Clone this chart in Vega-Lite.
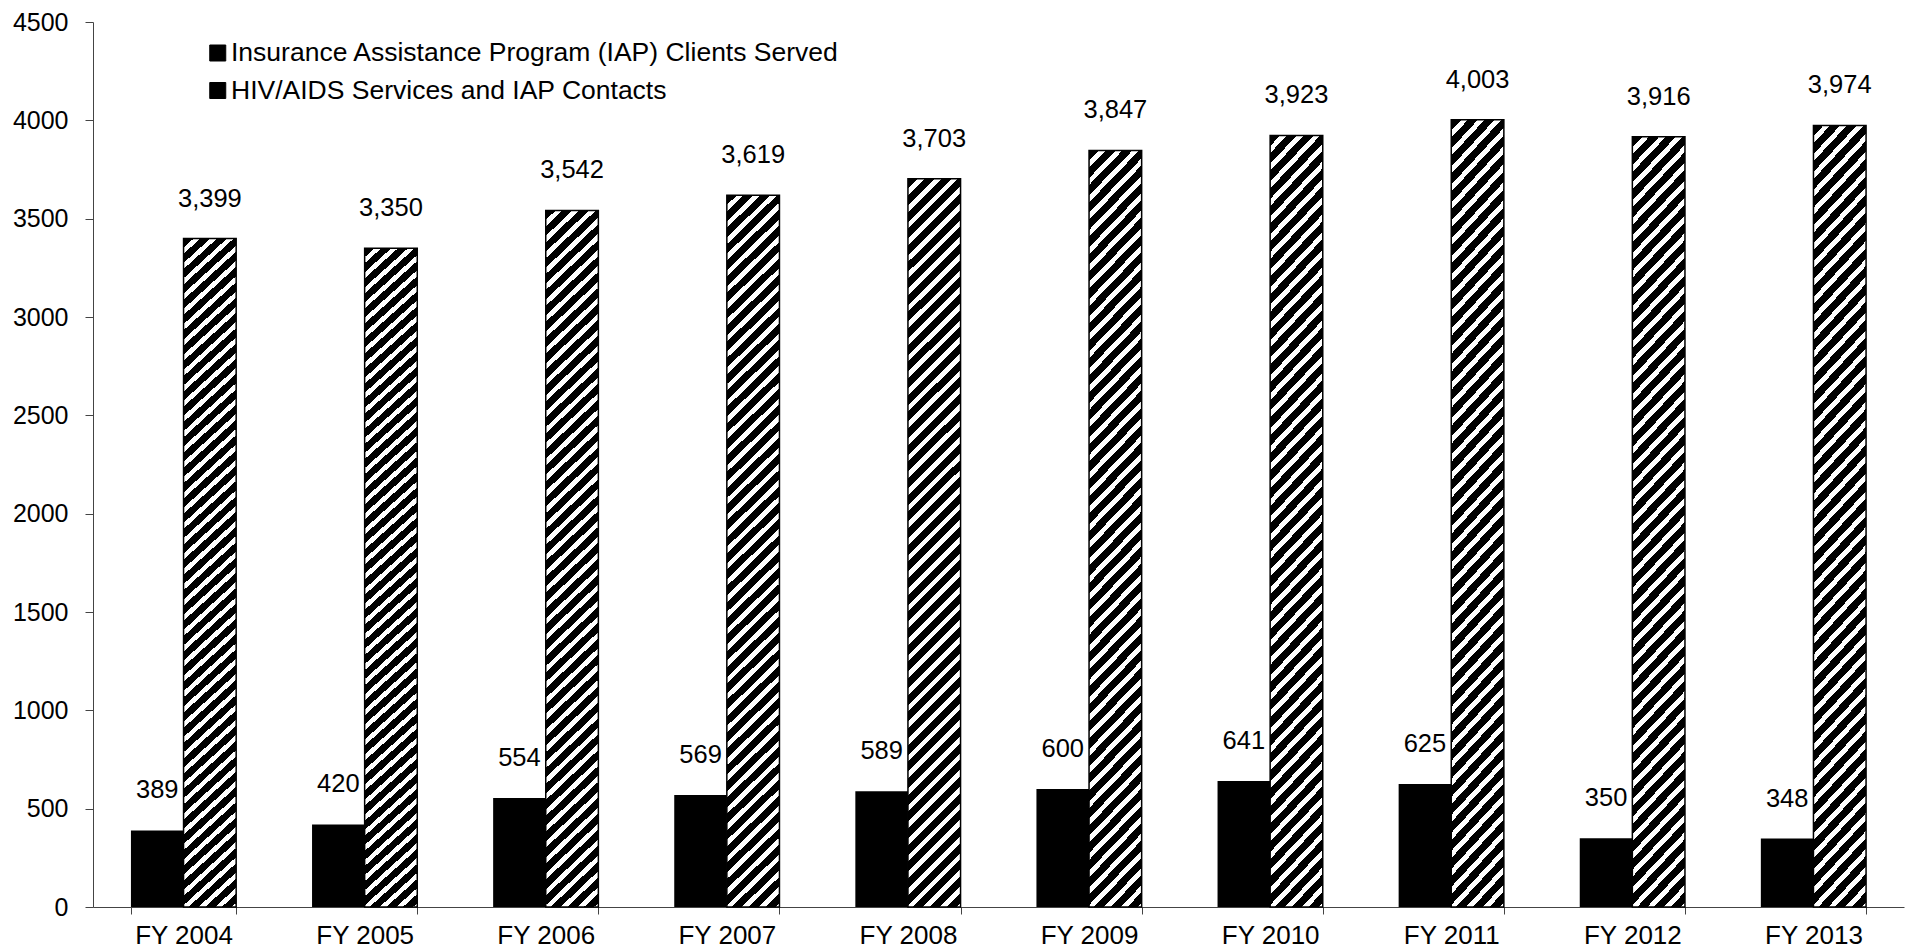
{
  "$schema": "https://vega.github.io/schema/vega-lite/v6.json",
  "width": 1811,
  "height": 885,
  "autosize": {"type": "none"},
  "padding": {"left": 93, "top": 22, "right": 2, "bottom": 44},
  "background": "#ffffff",
  "config": {
    "view": {"stroke": null},
    "font": "Liberation Sans",
    "text": {"font": "Liberation Sans"}
  },
  "data": {
    "values": [
      {"year": "FY 2004", "series": "Insurance Assistance Program (IAP) Clients Served", "value": 389},
      {"year": "FY 2004", "series": "HIV/AIDS Services and IAP Contacts", "value": 3399},
      {"year": "FY 2005", "series": "Insurance Assistance Program (IAP) Clients Served", "value": 420},
      {"year": "FY 2005", "series": "HIV/AIDS Services and IAP Contacts", "value": 3350},
      {"year": "FY 2006", "series": "Insurance Assistance Program (IAP) Clients Served", "value": 554},
      {"year": "FY 2006", "series": "HIV/AIDS Services and IAP Contacts", "value": 3542},
      {"year": "FY 2007", "series": "Insurance Assistance Program (IAP) Clients Served", "value": 569},
      {"year": "FY 2007", "series": "HIV/AIDS Services and IAP Contacts", "value": 3619},
      {"year": "FY 2008", "series": "Insurance Assistance Program (IAP) Clients Served", "value": 589},
      {"year": "FY 2008", "series": "HIV/AIDS Services and IAP Contacts", "value": 3703},
      {"year": "FY 2009", "series": "Insurance Assistance Program (IAP) Clients Served", "value": 600},
      {"year": "FY 2009", "series": "HIV/AIDS Services and IAP Contacts", "value": 3847},
      {"year": "FY 2010", "series": "Insurance Assistance Program (IAP) Clients Served", "value": 641},
      {"year": "FY 2010", "series": "HIV/AIDS Services and IAP Contacts", "value": 3923},
      {"year": "FY 2011", "series": "Insurance Assistance Program (IAP) Clients Served", "value": 625},
      {"year": "FY 2011", "series": "HIV/AIDS Services and IAP Contacts", "value": 4003},
      {"year": "FY 2012", "series": "Insurance Assistance Program (IAP) Clients Served", "value": 350},
      {"year": "FY 2012", "series": "HIV/AIDS Services and IAP Contacts", "value": 3916},
      {"year": "FY 2013", "series": "Insurance Assistance Program (IAP) Clients Served", "value": 348},
      {"year": "FY 2013", "series": "HIV/AIDS Services and IAP Contacts", "value": 3974}
    ]
  },
  "encoding": {
    "x": {
      "field": "year",
      "type": "nominal",
      "sort": null,
      "scale": {"paddingInner": 0.419, "paddingOuter": 0.2095},
      "axis": {
        "title": null,
        "labelAngle": 0,
        "tickBand": "extent",
        "tickSize": 7,
        "tickColor": "#444444",
        "domainColor": "#444444",
        "labelPadding": 8,
        "labelFontSize": 26,
        "labelColor": "#000000",
        "labelFont": "Liberation Sans"
      }
    },
    "xOffset": {
      "field": "series",
      "type": "nominal",
      "sort": ["Insurance Assistance Program (IAP) Clients Served", "HIV/AIDS Services and IAP Contacts"],
      "scale": {"paddingInner": 0, "paddingOuter": 0}
    },
    "y": {
      "field": "value",
      "type": "quantitative",
      "scale": {"domain": [0, 4500], "nice": false},
      "axis": {
        "title": null,
        "values": [0, 500, 1000, 1500, 2000, 2500, 3000, 3500, 4000, 4500],
        "format": "d",
        "grid": false,
        "tickSize": 8,
        "tickColor": "#444444",
        "domainColor": "#444444",
        "labelPadding": 17,
        "labelFontSize": 25,
        "labelColor": "#000000",
        "labelFont": "Liberation Sans"
      }
    }
  },
  "layer": [
    {
      "mark": {"type": "bar"},
      "encoding": {
        "color": {
          "field": "series",
          "type": "nominal",
          "scale": {
            "domain": ["Insurance Assistance Program (IAP) Clients Served", "HIV/AIDS Services and IAP Contacts"],
            "range": ["#000000", "#000000"]
          },
          "legend": {
            "orient": "none",
            "legendX": 111.5,
            "legendY": 17.75,
            "title": null,
            "symbolType": "square",
            "symbolSize": 256,
            "symbolStrokeWidth": 0,
            "symbolOpacity": 1,
            "labelFontSize": 26.5,
            "labelFont": "Liberation Sans",
            "labelColor": "#000000",
            "labelLimit": 0,
            "labelOffset": 0,
            "rowPadding": 10.5,
            "padding": 0,
            "encode": {
              "symbols": {
                "update": {
                  "fill": {
                    "signal": "datum.value === 'HIV/AIDS Services and IAP Contacts' ? {gradient: 'linear', x1: 0, y1: 0, x2: 1, y2: 1, stops: [{offset: 0, color: '#ffffff'}, {offset: 0.14, color: '#ffffff'}, {offset: 0.14, color: '#000000'}, {offset: 0.86, color: '#000000'}, {offset: 0.86, color: '#ffffff'}, {offset: 1, color: '#ffffff'}]} : '#000000'"
                  },
                  "stroke": {"value": "#000000"},
                  "strokeWidth": {"value": 1}
                }
              }
            }
          }
        }
      }
    },
    {
      "transform": [{"filter": "datum.series === 'HIV/AIDS Services and IAP Contacts'"}],
      "mark": {
        "type": "bar",
        "stroke": "#000000",
        "strokeWidth": 1.5,
        "fill": {
          "gradient": "linear", "x1": 0, "y1": 0, "x2": 0.082, "y2": 1.1379,
          "stops": [
            {"offset": 0, "color": "#000"}, {"offset": 0.012, "color": "#000"}, {"offset": 0.012, "color": "#fff"}, {"offset": 0.02, "color": "#fff"},
            {"offset": 0.02, "color": "#000"}, {"offset": 0.032, "color": "#000"}, {"offset": 0.032, "color": "#fff"}, {"offset": 0.04, "color": "#fff"},
            {"offset": 0.04, "color": "#000"}, {"offset": 0.052, "color": "#000"}, {"offset": 0.052, "color": "#fff"}, {"offset": 0.06, "color": "#fff"},
            {"offset": 0.06, "color": "#000"}, {"offset": 0.072, "color": "#000"}, {"offset": 0.072, "color": "#fff"}, {"offset": 0.08, "color": "#fff"},
            {"offset": 0.08, "color": "#000"}, {"offset": 0.092, "color": "#000"}, {"offset": 0.092, "color": "#fff"}, {"offset": 0.1, "color": "#fff"},
            {"offset": 0.1, "color": "#000"}, {"offset": 0.112, "color": "#000"}, {"offset": 0.112, "color": "#fff"}, {"offset": 0.12, "color": "#fff"},
            {"offset": 0.12, "color": "#000"}, {"offset": 0.132, "color": "#000"}, {"offset": 0.132, "color": "#fff"}, {"offset": 0.14, "color": "#fff"},
            {"offset": 0.14, "color": "#000"}, {"offset": 0.152, "color": "#000"}, {"offset": 0.152, "color": "#fff"}, {"offset": 0.16, "color": "#fff"},
            {"offset": 0.16, "color": "#000"}, {"offset": 0.172, "color": "#000"}, {"offset": 0.172, "color": "#fff"}, {"offset": 0.18, "color": "#fff"},
            {"offset": 0.18, "color": "#000"}, {"offset": 0.192, "color": "#000"}, {"offset": 0.192, "color": "#fff"}, {"offset": 0.2, "color": "#fff"},
            {"offset": 0.2, "color": "#000"}, {"offset": 0.212, "color": "#000"}, {"offset": 0.212, "color": "#fff"}, {"offset": 0.22, "color": "#fff"},
            {"offset": 0.22, "color": "#000"}, {"offset": 0.232, "color": "#000"}, {"offset": 0.232, "color": "#fff"}, {"offset": 0.24, "color": "#fff"},
            {"offset": 0.24, "color": "#000"}, {"offset": 0.252, "color": "#000"}, {"offset": 0.252, "color": "#fff"}, {"offset": 0.26, "color": "#fff"},
            {"offset": 0.26, "color": "#000"}, {"offset": 0.272, "color": "#000"}, {"offset": 0.272, "color": "#fff"}, {"offset": 0.28, "color": "#fff"},
            {"offset": 0.28, "color": "#000"}, {"offset": 0.292, "color": "#000"}, {"offset": 0.292, "color": "#fff"}, {"offset": 0.3, "color": "#fff"},
            {"offset": 0.3, "color": "#000"}, {"offset": 0.312, "color": "#000"}, {"offset": 0.312, "color": "#fff"}, {"offset": 0.32, "color": "#fff"},
            {"offset": 0.32, "color": "#000"}, {"offset": 0.332, "color": "#000"}, {"offset": 0.332, "color": "#fff"}, {"offset": 0.34, "color": "#fff"},
            {"offset": 0.34, "color": "#000"}, {"offset": 0.352, "color": "#000"}, {"offset": 0.352, "color": "#fff"}, {"offset": 0.36, "color": "#fff"},
            {"offset": 0.36, "color": "#000"}, {"offset": 0.372, "color": "#000"}, {"offset": 0.372, "color": "#fff"}, {"offset": 0.38, "color": "#fff"},
            {"offset": 0.38, "color": "#000"}, {"offset": 0.392, "color": "#000"}, {"offset": 0.392, "color": "#fff"}, {"offset": 0.4, "color": "#fff"},
            {"offset": 0.4, "color": "#000"}, {"offset": 0.412, "color": "#000"}, {"offset": 0.412, "color": "#fff"}, {"offset": 0.42, "color": "#fff"},
            {"offset": 0.42, "color": "#000"}, {"offset": 0.432, "color": "#000"}, {"offset": 0.432, "color": "#fff"}, {"offset": 0.44, "color": "#fff"},
            {"offset": 0.44, "color": "#000"}, {"offset": 0.452, "color": "#000"}, {"offset": 0.452, "color": "#fff"}, {"offset": 0.46, "color": "#fff"},
            {"offset": 0.46, "color": "#000"}, {"offset": 0.472, "color": "#000"}, {"offset": 0.472, "color": "#fff"}, {"offset": 0.48, "color": "#fff"},
            {"offset": 0.48, "color": "#000"}, {"offset": 0.492, "color": "#000"}, {"offset": 0.492, "color": "#fff"}, {"offset": 0.5, "color": "#fff"},
            {"offset": 0.5, "color": "#000"}, {"offset": 0.512, "color": "#000"}, {"offset": 0.512, "color": "#fff"}, {"offset": 0.52, "color": "#fff"},
            {"offset": 0.52, "color": "#000"}, {"offset": 0.532, "color": "#000"}, {"offset": 0.532, "color": "#fff"}, {"offset": 0.54, "color": "#fff"},
            {"offset": 0.54, "color": "#000"}, {"offset": 0.552, "color": "#000"}, {"offset": 0.552, "color": "#fff"}, {"offset": 0.56, "color": "#fff"},
            {"offset": 0.56, "color": "#000"}, {"offset": 0.572, "color": "#000"}, {"offset": 0.572, "color": "#fff"}, {"offset": 0.58, "color": "#fff"},
            {"offset": 0.58, "color": "#000"}, {"offset": 0.592, "color": "#000"}, {"offset": 0.592, "color": "#fff"}, {"offset": 0.6, "color": "#fff"},
            {"offset": 0.6, "color": "#000"}, {"offset": 0.612, "color": "#000"}, {"offset": 0.612, "color": "#fff"}, {"offset": 0.62, "color": "#fff"},
            {"offset": 0.62, "color": "#000"}, {"offset": 0.632, "color": "#000"}, {"offset": 0.632, "color": "#fff"}, {"offset": 0.64, "color": "#fff"},
            {"offset": 0.64, "color": "#000"}, {"offset": 0.652, "color": "#000"}, {"offset": 0.652, "color": "#fff"}, {"offset": 0.66, "color": "#fff"},
            {"offset": 0.66, "color": "#000"}, {"offset": 0.672, "color": "#000"}, {"offset": 0.672, "color": "#fff"}, {"offset": 0.68, "color": "#fff"},
            {"offset": 0.68, "color": "#000"}, {"offset": 0.692, "color": "#000"}, {"offset": 0.692, "color": "#fff"}, {"offset": 0.7, "color": "#fff"},
            {"offset": 0.7, "color": "#000"}, {"offset": 0.712, "color": "#000"}, {"offset": 0.712, "color": "#fff"}, {"offset": 0.72, "color": "#fff"},
            {"offset": 0.72, "color": "#000"}, {"offset": 0.732, "color": "#000"}, {"offset": 0.732, "color": "#fff"}, {"offset": 0.74, "color": "#fff"},
            {"offset": 0.74, "color": "#000"}, {"offset": 0.752, "color": "#000"}, {"offset": 0.752, "color": "#fff"}, {"offset": 0.76, "color": "#fff"},
            {"offset": 0.76, "color": "#000"}, {"offset": 0.772, "color": "#000"}, {"offset": 0.772, "color": "#fff"}, {"offset": 0.78, "color": "#fff"},
            {"offset": 0.78, "color": "#000"}, {"offset": 0.792, "color": "#000"}, {"offset": 0.792, "color": "#fff"}, {"offset": 0.8, "color": "#fff"},
            {"offset": 0.8, "color": "#000"}, {"offset": 0.812, "color": "#000"}, {"offset": 0.812, "color": "#fff"}, {"offset": 0.82, "color": "#fff"},
            {"offset": 0.82, "color": "#000"}, {"offset": 0.832, "color": "#000"}, {"offset": 0.832, "color": "#fff"}, {"offset": 0.84, "color": "#fff"},
            {"offset": 0.84, "color": "#000"}, {"offset": 0.852, "color": "#000"}, {"offset": 0.852, "color": "#fff"}, {"offset": 0.86, "color": "#fff"},
            {"offset": 0.86, "color": "#000"}, {"offset": 0.872, "color": "#000"}, {"offset": 0.872, "color": "#fff"}, {"offset": 0.88, "color": "#fff"},
            {"offset": 0.88, "color": "#000"}, {"offset": 0.892, "color": "#000"}, {"offset": 0.892, "color": "#fff"}, {"offset": 0.9, "color": "#fff"},
            {"offset": 0.9, "color": "#000"}, {"offset": 0.912, "color": "#000"}, {"offset": 0.912, "color": "#fff"}, {"offset": 0.92, "color": "#fff"},
            {"offset": 0.92, "color": "#000"}, {"offset": 0.932, "color": "#000"}, {"offset": 0.932, "color": "#fff"}, {"offset": 0.94, "color": "#fff"},
            {"offset": 0.94, "color": "#000"}, {"offset": 0.952, "color": "#000"}, {"offset": 0.952, "color": "#fff"}, {"offset": 0.96, "color": "#fff"},
            {"offset": 0.96, "color": "#000"}, {"offset": 1, "color": "#000"}
          ]
        }
      }
    },
    {
      "mark": {
        "type": "text",
        "baseline": "alphabetic",
        "align": "center",
        "dy": -32,
        "fontSize": 25.5,
        "font": "Liberation Sans",
        "color": "#000000"
      },
      "encoding": {
        "text": {"field": "value", "type": "quantitative", "format": ","}
      }
    }
  ]
}
